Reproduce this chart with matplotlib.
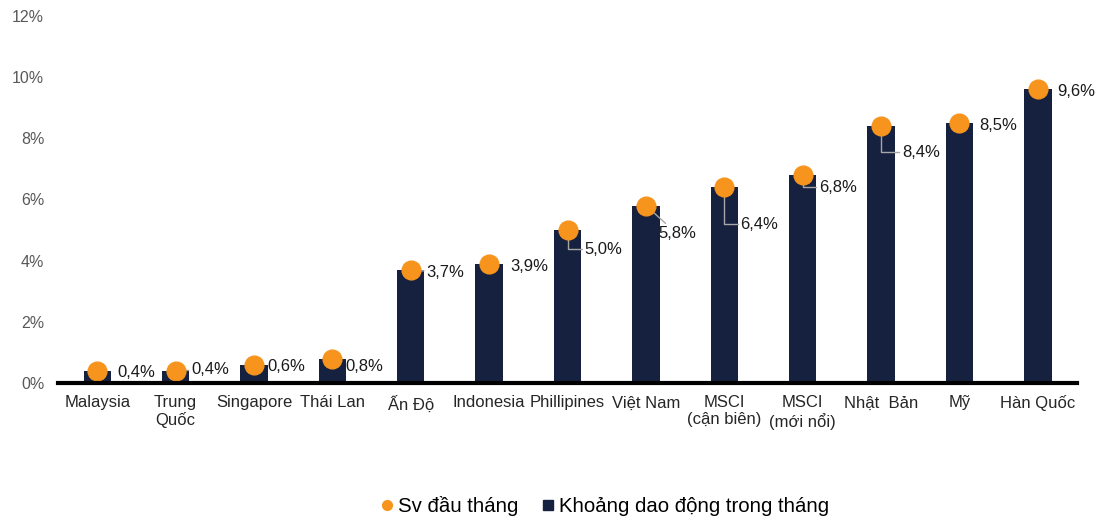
import matplotlib.pyplot as plt
from matplotlib.lines import Line2D

plt.rcParams['font.family'] = ['Liberation Sans', 'DejaVu Sans']

# Data
markets = ['Malaysia', 'Trung\nQuốc', 'Singapore', 'Thái Lan', 'Ấn Độ', 'Indonesia',
           'Phillipines', 'Việt Nam', 'MSCI\n(cận biên)', 'MSCI\n(mới nổi)',
           'Nhật  Bản', 'Mỹ', 'Hàn Quốc']
range_month = [0.4, 0.4, 0.6, 0.8, 3.7, 3.9, 5.0, 5.8, 6.4, 6.8, 8.4, 8.5, 9.6]
sv_start = [0.4, 0.4, 0.6, 0.8, 3.7, 3.9, 5.0, 5.8, 6.4, 6.8, 8.4, 8.5, 9.6]
labels = ['0,4%', '0,4%', '0,6%', '0,8%', '3,7%', '3,9%', '5,0%', '5,8%',
          '6,4%', '6,8%', '8,4%', '8,5%', '9,6%']

# label offsets in pixels (dx, dy) and leader-line style
offsets = [(20, -2), (16, 1), (13, -2), (13, -8), (16, -3), (21, -3), (17, -19),
           (12, -28), (16, -37), (16, -12), (21, -26), (20, -2), (19, -2)]
leader = [None, 'straight', None, None, 'straight', None, 'elbow', 'straight',
          'elbow', 'elbow', 'elbow', None, None]

navy = '#16213f'
orange = '#f7941d'

fig = plt.figure(figsize=(10.99, 5.16), dpi=100)
ax = fig.add_axes([0.0528, 0.2578, 0.9272, 0.7112])

x = range(len(markets))
ax.bar(x, range_month, width=0.35, color=navy, zorder=2)
ax.plot(x, sv_start, 'o', color=orange, markersize=13.5, zorder=4)

for i, (v, lab) in enumerate(zip(sv_start, labels)):
    arrow = None
    if leader[i] == 'straight':
        arrow = dict(arrowstyle='-', color='#a6a6a6', lw=1, shrinkA=0, shrinkB=0)
    elif leader[i] == 'elbow':
        arrow = dict(arrowstyle='-', color='#a6a6a6', lw=1, shrinkA=0, shrinkB=0,
                     connectionstyle='angle,angleA=0,angleB=90,rad=0')
    ax.annotate(lab, xy=(i, v), xytext=offsets[i], textcoords='offset pixels',
                ha='left', va='center', fontsize=12, color='#1a1a1a',
                arrowprops=arrow, zorder=3)

ax.set_xlim(-0.5, len(markets) - 0.5)
ax.set_ylim(0, 12)
ax.set_yticks(range(0, 13, 2))
ax.set_yticklabels([f'{t}%' for t in range(0, 13, 2)], fontsize=11.5, color='#595959')
ax.set_xticks(list(x))
ax.set_xticklabels(markets, fontsize=12, color='#262626', linespacing=1.15)
ax.tick_params(length=0, axis='both')
ax.tick_params(axis='x', pad=9)
ax.tick_params(axis='y', pad=10)

for s in ['top', 'right', 'left']:
    ax.spines[s].set_visible(False)
ax.spines['bottom'].set_linewidth(3)
ax.spines['bottom'].set_color('black')
ax.spines['bottom'].set_zorder(5)

handles = [Line2D([], [], marker='o', color=orange, linestyle='none', markersize=7),
           Line2D([], [], marker='s', color=navy, linestyle='none', markersize=7)]
fig.legend(handles, ['Sv đầu tháng', 'Khoảng dao động trong tháng'],
           loc='center', bbox_to_anchor=(0.549, 0.019), ncol=2, frameon=False,
           fontsize=14.7, handletextpad=0.1, columnspacing=1.0, handlelength=0.9)

fig.savefig('out.png', dpi=100)
